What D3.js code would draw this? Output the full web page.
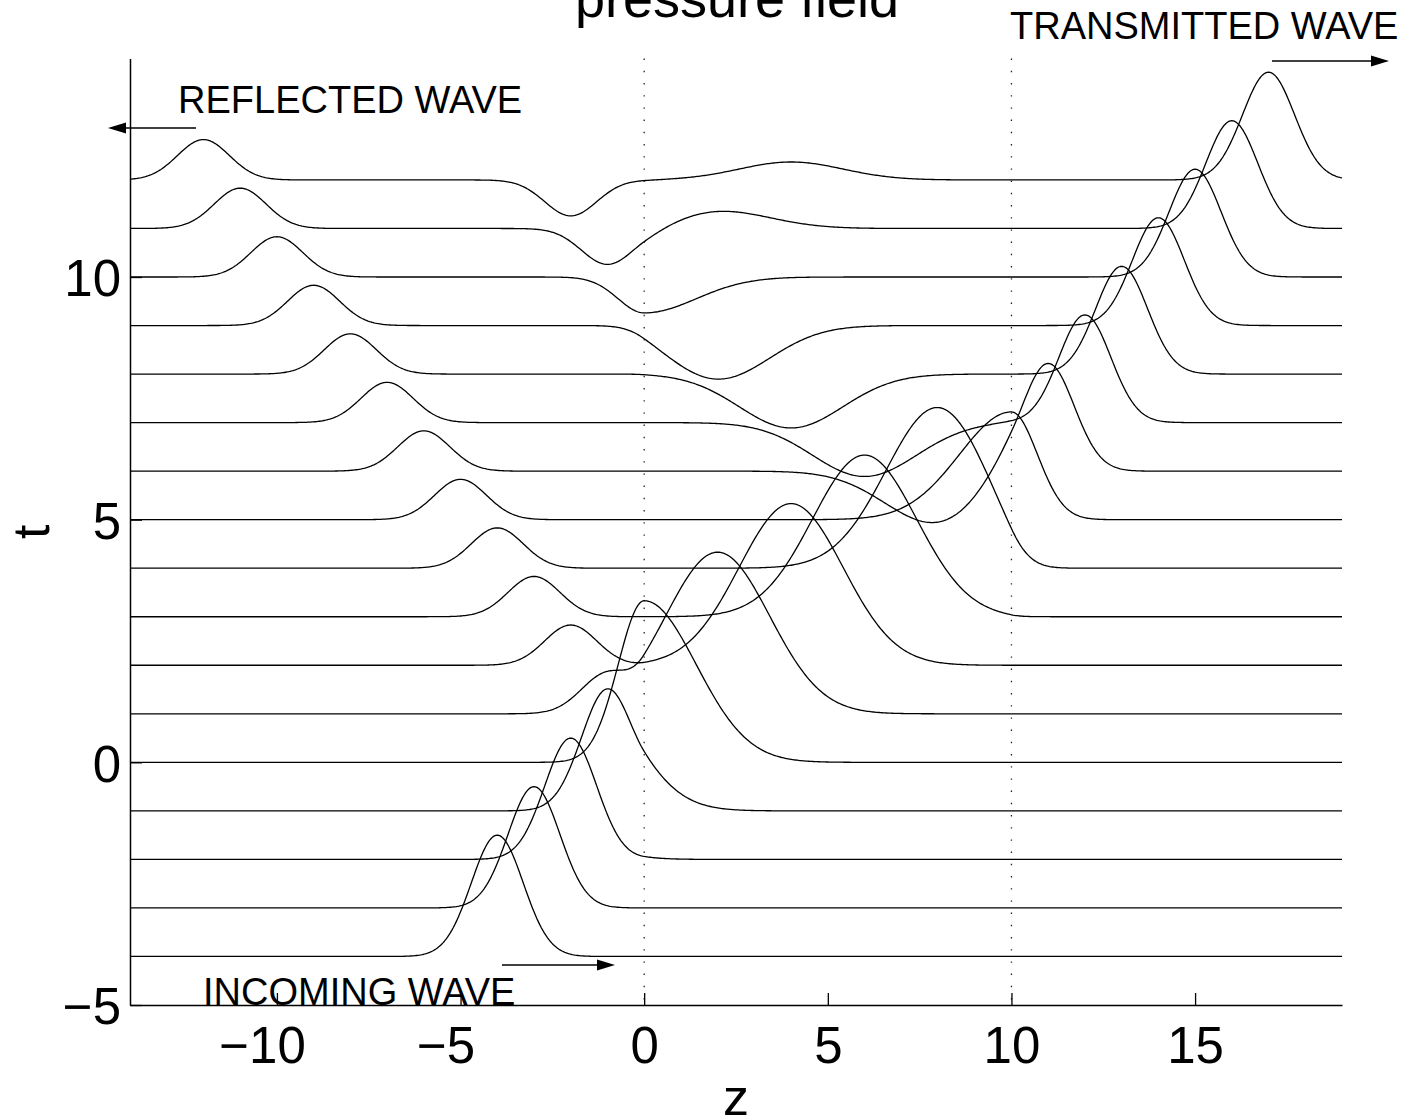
<!DOCTYPE html>
<html>
<head>
<meta charset="utf-8">
<script src="https://cdn.jsdelivr.net/npm/d3@7"></script>
<style>
  body { margin: 0; background: #fff; }
  svg { display: block; }
  text { font-family: "Liberation Sans", Arial, Helvetica, sans-serif; fill: #000; }
</style>
</head>
<body>
<svg id="chart" width="1403" height="1120"></svg>
<script>
// Snapshot times: one trace per time, drawn on its own baseline t
const snapshotTimes = [-4, -3, -2, -1, 0, 1, 2, 3, 4, 5, 6, 7, 8, 9, 10, 11, 12];

// Layered medium: interface positions in z and wave speed in each layer
const interfaces = [0, 10];
const layerSpeeds = [1, 2, 1];

// Wave components: layer, amplitude, reference position, arrival time there, direction
const waveNames     = ["incoming", "reflected", "transmitted into slab", "reflected at z=10",
                       "transmitted", "leaked back", "re-reflected in slab"];
const waveLayer     = [0, 0, 1, 1, 2, 0, 1];
const waveAmplitude = [2.5, 0.83, 3.33, -1.11, 2.22, -0.74, 0.37];
const waveOriginZ   = [0, 0, 0, 10, 10, 0, 0];
const waveOriginT   = [0, 0, 0, 5, 5, 10, 10];
const waveDirection = [1, -1, 1, -1, 1, -1, 1];
const pulseWidth = 1;

// Axes
const zDomain = [-14, 19];
const tDomain = [-5, 14.5];
const zTicks = [-10, -5, 0, 5, 10, 15];
const tTicks = [-5, 0, 5, 10];

const svg = d3.select("#chart");
const plotLeft = 130, plotRight = 1342, plotTop = 58.6, plotBottom = 1005;

const x = d3.scaleLinear().domain(zDomain).range([plotLeft, plotRight]);
const y = d3.scaleLinear().domain(tDomain).range([plotBottom, plotTop]);

function layerOf(z) {
  return z < interfaces[0] ? 0 : (z <= interfaces[1] ? 1 : 2);
}

// Pressure at position z and time t: sum of gaussian pulses travelling in that layer
function pressure(z, t) {
  const L = layerOf(z);
  let p = 0;
  for (let k = 0; k < waveLayer.length; k++) {
    if (waveLayer[k] !== L) continue;
    const tau = t - waveOriginT[k] - waveDirection[k] * (z - waveOriginZ[k]) / layerSpeeds[L];
    p += waveAmplitude[k] * Math.exp(-(tau * tau) / (pulseWidth * pulseWidth));
  }
  return p;
}

const zSamples = d3.range(zDomain[0], zDomain[1] + 1e-9, 0.04).concat(interfaces).sort((a, b) => a - b);

// Interface markers (dotted)
svg.append("g").selectAll("line")
  .data(interfaces)
  .join("line")
  .attr("x1", d => x(d)).attr("x2", d => x(d))
  .attr("y1", plotTop).attr("y2", plotBottom)
  .attr("stroke", "#222")
  .attr("stroke-width", 1.3)
  .attr("stroke-dasharray", "1.4 10.8");

// Traces
const line = d3.line()
  .x(d => x(d[0]))
  .y(d => y(d[1]));

svg.append("g")
  .attr("fill", "none")
  .attr("stroke", "#000")
  .attr("stroke-width", 1.3)
  .attr("stroke-linejoin", "round")
  .selectAll("path")
  .data(snapshotTimes)
  .join("path")
  .attr("d", t => line(zSamples.map(z => [z, t + pressure(z, t)])));

// Axes (inward ticks, no box)
const tickFontSize = 51;
const xAxis = d3.axisBottom(x).tickValues(zTicks).tickSizeInner(-12).tickSizeOuter(0);
const yAxis = d3.axisLeft(y).tickValues(tTicks).tickSizeInner(-12).tickSizeOuter(0).tickPadding(9);

const gx = svg.append("g").attr("transform", `translate(0,${plotBottom})`).call(xAxis);
const gy = svg.append("g").attr("transform", `translate(${plotLeft},0)`).call(yAxis);

[gx, gy].forEach(g => {
  g.select(".domain").attr("stroke", "#000").attr("stroke-width", 1.5);
  g.selectAll(".tick line").attr("stroke", "#000").attr("stroke-width", 1.3);
  g.selectAll(".tick text")
    .attr("font-family", "'Liberation Sans', Arial, Helvetica, sans-serif")
    .attr("font-size", tickFontSize)
    .attr("fill", "#000");
});
// digits are centred under the tick; a leading minus hangs to the left
gx.selectAll(".tick text")
  .attr("y", 58)
  .attr("dy", null)
  .attr("dx", d => d < 0 ? -0.292 * tickFontSize : 0);
gy.selectAll(".tick text").attr("dy", "0.37em");

// Axis labels and title
svg.append("text")
  .attr("x", (plotLeft + plotRight) / 2).attr("y", 1115)
  .attr("text-anchor", "middle").attr("font-size", 52)
  .text("z");

svg.append("text")
  .attr("transform", `translate(49,${(plotTop + plotBottom) / 2}) rotate(-90)`)
  .attr("text-anchor", "middle").attr("font-size", 52)
  .text("t");

svg.append("text")
  .attr("x", 737).attr("y", 17)
  .attr("text-anchor", "middle").attr("font-size", 54)
  .text("pressure field");

// Annotations with arrows
const notes = [
  { text: "TRANSMITTED WAVE", tx: 1010, ty: 39, a: [1272, 1389], ay: 61 },
  { text: "REFLECTED WAVE",   tx: 178,  ty: 113, a: [196, 108],  ay: 128 },
  { text: "INCOMING WAVE",    tx: 203,  ty: 1005, a: [502, 615], ay: 965 }
];

const ng = svg.append("g");
notes.forEach(n => {
  ng.append("text")
    .attr("x", n.tx).attr("y", n.ty)
    .attr("font-size", 38)
    .text(n.text);
  const [x0, x1] = n.a;
  const dir = Math.sign(x1 - x0);
  const headLen = 18, headHalf = 5.5;
  ng.append("line")
    .attr("x1", x0).attr("x2", x1 - dir * headLen)
    .attr("y1", n.ay).attr("y2", n.ay)
    .attr("stroke", "#000").attr("stroke-width", 1.4);
  ng.append("path")
    .attr("d", `M${x1},${n.ay} L${x1 - dir * headLen},${n.ay - headHalf} L${x1 - dir * headLen},${n.ay + headHalf} Z`)
    .attr("fill", "#000");
});
</script>
</body>
</html>
